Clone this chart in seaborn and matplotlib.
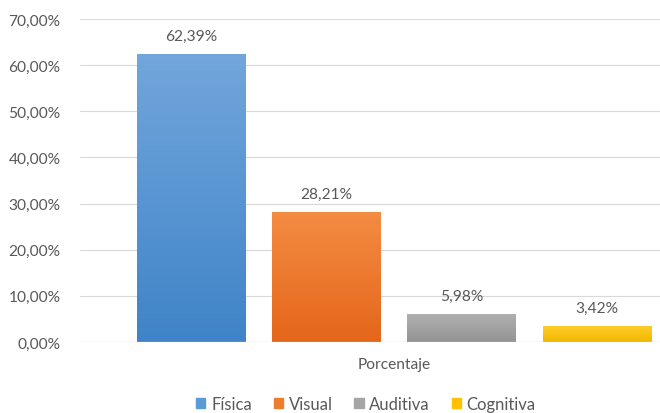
import numpy as np
import pandas as pd
import seaborn as sns
import matplotlib.pyplot as plt
import matplotlib.patches as mpatches
from matplotlib.colors import LinearSegmentedColormap

# data
categoria = ["Porcentaje"]
tipos = ["Física", "Visual", "Auditiva", "Cognitiva"]
valores = [0.6239, 0.2821, 0.0598, 0.0342]

df = pd.DataFrame({"cat": categoria * len(tipos), "tipo": tipos, "valor": valores})

# top / bottom colours of the gradient fill
top_cols = ["#72a6dc", "#f48c43", "#b0b0b0", "#ffcb2a"]
bot_cols = ["#3f84c8", "#e4661a", "#949494", "#f2b800"]
base_cols = ["#5b9bd5", "#ed7d31", "#a5a5a5", "#ffc000"]

sns.set_style("white")
plt.rcParams['font.family'] = ['Lato', 'DejaVu Sans']
txt = "#595959"

fig = plt.figure(figsize=(6.6, 4.14), dpi=100)
ax = fig.add_axes([80/660, 71/414, 580/660, 323/414])

sns.barplot(data=df, x="cat", y="valor", hue="tipo", hue_order=tipos,
            palette=base_cols, width=0.8, gap=0.2, ax=ax, legend=False,
            zorder=3)

ax.set_yticks(np.arange(0, 0.71, 0.1))
ax.set_yticklabels([f"{v*100:.2f}%".replace(".", ",") for v in np.arange(0, 0.71, 0.1)],
                   color=txt, fontsize=11.2)
ax.tick_params(axis="y", length=0, pad=14)
ax.tick_params(axis="x", length=0, pad=11, labelsize=11.2, labelcolor=txt)
ax.set_xlabel("")
ax.set_ylabel("")
ax.grid(axis="y", color="#d9d9d9", linewidth=0.8, zorder=0)
for s in ax.spines.values():
    s.set_visible(False)
ax.axhline(0, color="#d9d9d9", linewidth=0.9, zorder=4)

# gradient fill and value labels
bars = [p for p in ax.patches if isinstance(p, mpatches.Rectangle) and p.get_height() > 0]
bars = sorted(bars, key=lambda p: p.get_x())
for p, c1, c2, v in zip(bars, top_cols, bot_cols, valores):
    x0, w, h = p.get_x(), p.get_width(), p.get_height()
    cmap = LinearSegmentedColormap.from_list("g", [c2, c1])
    grad = np.linspace(0, 1, 256).reshape(-1, 1)
    im = ax.imshow(grad, extent=[x0, x0 + w, 0, h], origin="lower", cmap=cmap,
                   aspect="auto", zorder=3)
    im.set_clip_path(p)
    p.set_facecolor("none")
    p.set_edgecolor("none")
    ax.annotate(f"{v*100:.2f}%".replace(".", ","), (x0 + w / 2, h),
                xytext=(0, 8), textcoords="offset points", ha="center",
                va="bottom", fontsize=11.2, color=txt)

ax.set_xlim(-0.465, 0.394)
ax.set_ylim(0, 0.7)

handles = [mpatches.Patch(color=c, label=t) for c, t in zip(base_cols, tipos)]
fig.legend(handles=handles, loc="center", bbox_to_anchor=(366/660, 1 - 405/414),
           ncol=4, frameon=False, fontsize=12, labelcolor=txt,
           handlelength=0.55, handleheight=0.55, handletextpad=0.35, columnspacing=1.3)

fig.savefig("out.png", dpi=100)
